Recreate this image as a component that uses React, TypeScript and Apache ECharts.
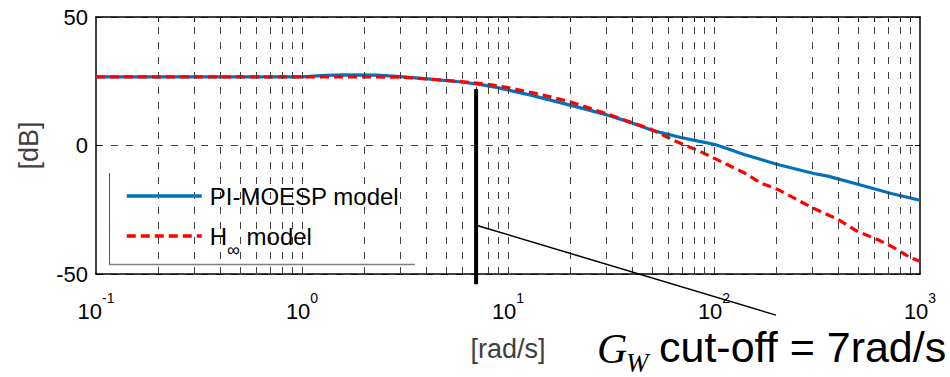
import React, { useEffect, useRef } from 'react';
import * as echarts from 'echarts';

// ---- data ----
const decadeTicks = [0.1, 1, 10, 100, 1000];
const gridX = [
  0.2, 0.3, 0.4, 0.5, 0.6, 0.7, 0.8, 0.9, 1,
  2, 3, 4, 5, 6, 7, 8, 9, 10,
  20, 30, 40, 50, 60, 70, 80, 90, 100,
  200, 300, 400, 500, 600, 700, 800, 900,
];
const minorTicks = [
  0.2, 0.3, 0.4, 0.5, 0.6, 0.7, 0.8, 0.9, 1,
  2, 3, 4, 5, 6, 7, 8, 9, 10,
  20, 30, 40, 50, 60, 70, 80, 90, 100,
  200, 300, 400, 500, 600, 700, 800, 900,
];
const yTicks = [-50, 0, 50];

const freqBlue = [0.1, 0.3, 1.0, 1.3, 1.6, 2.3, 3.0, 4.2, 6.1, 7.4, 8.8, 10, 12.9, 20, 30, 40, 50, 69, 85, 100, 110, 140, 204, 305, 357, 504, 725, 1000];
const magBlue = [26.7, 26.7, 26.7, 27.3, 27.5, 27.4, 26.8, 25.8, 24.6, 23.7, 22.6, 21.6, 19.6, 15.7, 12.0, 8.8, 5.9, 3.1, 1.6, 0.5, -0.6, -3.5, -7.4, -10.9, -11.9, -15.2, -18.7, -21.3];

const freqRed = [0.1, 1.0, 2.0, 3.0, 4.2, 6.1, 7.4, 8.8, 10, 14.5, 20, 30, 40, 50, 64, 85, 100, 140, 169, 204, 295, 400, 494, 622, 725, 900, 1000];
const magRed = [26.7, 26.7, 26.7, 26.6, 25.8, 24.8, 24.1, 23.3, 22.5, 19.8, 17.0, 12.4, 8.9, 6.2, 1.9, -2.2, -4.9, -10.6, -14.6, -17.1, -23.9, -28.8, -33.3, -36.6, -39.2, -43.7, -45.0];

const cutoffFreq = 7;
const cutoffSpan = [22, -54];
const pointerFreq = [7, 200];
const pointerMag = [-31, -66];

const seriesNames = ['PI-MOESP model', 'H∞ model'];

const FONT = '"Liberation Sans", Arial, Helvetica, sans-serif';
const SERIF = '"Liberation Serif", "Times New Roman", serif';

export default function App() {
  const ref = useRef<HTMLDivElement>(null);

  useEffect(() => {
    if (!ref.current) return;
    const chart = echarts.init(ref.current, undefined, { renderer: 'svg' });

    const axisLineStyle = { color: '#000', width: 1.5 };

    const option: any = {
      animation: false,
      backgroundColor: '#ffffff',
      textStyle: { fontFamily: FONT },
      grid: { left: 96, right: 30, top: 17, bottom: 103, containLabel: false },
      legend: {
        data: seriesNames,
        orient: 'vertical',
        left: 125,
        top: 184,
        padding: 0,
        itemWidth: 75,
        itemHeight: 14,
        itemGap: 5,
        selectedMode: false,
        z: 10,
        itemStyle: { color: 'rgba(0,0,0,0)', borderColor: 'rgba(0,0,0,0)', borderWidth: 0, opacity: 0 },
        lineStyle: { width: 3.5 },
        formatter: (name: string) =>
          name === 'H∞ model' ? '{h|H}{i|∞}{h| model}' : '{h|' + name + '}',
        textStyle: {
          fontFamily: FONT,
          fontSize: 24,
          color: '#000',
          padding: [0, 0, 0, 3],
          rich: {
            h: { fontFamily: FONT, fontSize: 24, lineHeight: 30, color: '#000' },
            i: { fontFamily: FONT, fontSize: 18, lineHeight: 18, color: '#000', padding: [28, 0, 0, 0] },
          },
        },
      },
      graphic: [
        {
          type: 'rect',
          z: 3,
          silent: true,
          shape: { x: 109, y: 173, width: 306, height: 91 },
          style: { fill: '#ffffff' },
        },
        {
          type: 'line',
          z: 4,
          silent: true,
          shape: { x1: 109.5, y1: 173, x2: 109.5, y2: 264 },
          style: { stroke: '#555', lineWidth: 1 },
        },
        {
          type: 'line',
          z: 4,
          silent: true,
          shape: { x1: 109, y1: 264.5, x2: 415, y2: 264.5 },
          style: { stroke: '#808080', lineWidth: 1.3 },
        },
        {
          type: 'text',
          z: 10,
          x: 597,
          y: 349,
          style: {
            text: 'G',
            font: 'italic 42px ' + SERIF,
            fill: '#000',
            align: 'left',
            verticalAlign: 'middle',
          },
        },
        {
          type: 'text',
          z: 10,
          x: 626,
          y: 363,
          style: {
            text: 'W',
            font: 'italic 27px ' + SERIF,
            fill: '#000',
            align: 'left',
            verticalAlign: 'middle',
          },
        },
        {
          type: 'text',
          z: 10,
          x: 659,
          y: 347,
          style: {
            text: 'cut-off = 7rad/s',
            font: '43px ' + FONT,
            fill: '#000',
            align: 'left',
            verticalAlign: 'middle',
          },
        },
      ],
      xAxis: [
        {
          type: 'log',
          logBase: 10,
          min: 0.1,
          max: 1000,
          position: 'bottom',
          name: '[rad/s]',
          nameLocation: 'middle',
          nameGap: 56,
          nameTextStyle: { fontFamily: FONT, fontSize: 27, color: '#404040' },
          axisLine: { show: true, onZero: false, lineStyle: axisLineStyle },
          axisTick: { show: true, inside: true, length: 5, customValues: minorTicks, lineStyle: { color: '#000', width: 1 } },
          axisLabel: {
            customValues: decadeTicks,
            margin: 26,
            color: '#000',
            formatter: (v: number) => '{b|10}{s|' + Math.round(Math.log10(v)) + '}',
            rich: {
              b: { fontFamily: FONT, fontSize: 22, lineHeight: 22, color: '#000' },
              s: { fontFamily: FONT, fontSize: 14, lineHeight: 14, color: '#000', padding: [0, 0, 26, 0] },
            },
          },
          splitLine: { show: false },
        },
        {
          type: 'log',
          logBase: 10,
          min: 0.1,
          max: 1000,
          position: 'top',
          axisLine: { show: true, onZero: false, lineStyle: axisLineStyle },
          axisTick: { show: true, inside: true, length: 5, customValues: minorTicks, lineStyle: { color: '#000', width: 1 } },
          axisLabel: { show: false },
          splitLine: { show: false },
        },
      ],
      yAxis: [
        {
          type: 'value',
          min: -50,
          max: 50,
          interval: 50,
          position: 'left',
          name: '[dB]',
          nameLocation: 'middle',
          nameRotate: 90,
          nameGap: 54,
          nameTextStyle: { fontFamily: FONT, fontSize: 27, color: '#404040' },
          axisLine: { show: true, onZero: false, lineStyle: axisLineStyle },
          axisTick: { show: true, inside: true, length: 5, customValues: yTicks, lineStyle: { color: '#000' } },
          axisLabel: { fontFamily: FONT, fontSize: 22, color: '#000', margin: 8 },
          splitLine: { show: true, lineStyle: { type: [7, 8], color: '#404040', width: 1 } },
        },
        {
          type: 'value',
          min: -50,
          max: 50,
          interval: 50,
          position: 'right',
          axisLine: { show: true, onZero: false, lineStyle: axisLineStyle },
          axisTick: { show: true, inside: true, length: 5, lineStyle: { color: '#000' } },
          axisLabel: { show: false },
          splitLine: { show: false },
        },
      ],
      series: [
        {
          type: 'line',
          name: 'gridlines',
          data: [],
          silent: true,
          z: 1,
          markLine: {
            silent: true,
            symbol: ['none', 'none'],
            label: { show: false },
            emphasis: { disabled: true },
            lineStyle: { type: [7, 8], color: '#404040', width: 1 },
            data: gridX.map((v) => ({ xAxis: v })),
          },
        },
        {
          type: 'line',
          name: seriesNames[0],
          data: freqBlue.map((f, i) => [f, magBlue[i]]),
          showSymbol: false,
          symbol: 'none',
          z: 3,
          color: '#0072BD',
          lineStyle: { color: '#0072BD', width: 3.2 },
        },
        {
          type: 'line',
          name: seriesNames[1],
          data: freqRed.map((f, i) => [f, magRed[i]]),
          showSymbol: false,
          symbol: 'none',
          z: 4,
          color: '#FF0000',
          lineStyle: { color: '#FF0000', width: 3.2, type: [9, 5] },
        },
        {
          type: 'line',
          name: 'cutoff',
          data: cutoffSpan.map((m) => [cutoffFreq, m]),
          clip: false,
          showSymbol: false,
          symbol: 'none',
          silent: true,
          z: 5,
          lineStyle: { color: '#000', width: 4 },
        },
        {
          type: 'line',
          name: 'pointer',
          data: pointerFreq.map((f, i) => [f, pointerMag[i]]),
          clip: false,
          showSymbol: false,
          symbol: 'none',
          silent: true,
          z: 5,
          lineStyle: { color: '#000', width: 1.5 },
        },
      ],
    };

    chart.setOption(option);
    return () => {
      chart.dispose();
    };
  }, []);

  return (
    <div
      ref={ref}
      style={{ position: 'fixed', left: 0, top: 0, width: 950, height: 377, background: '#fff' }}
    />
  );
}
